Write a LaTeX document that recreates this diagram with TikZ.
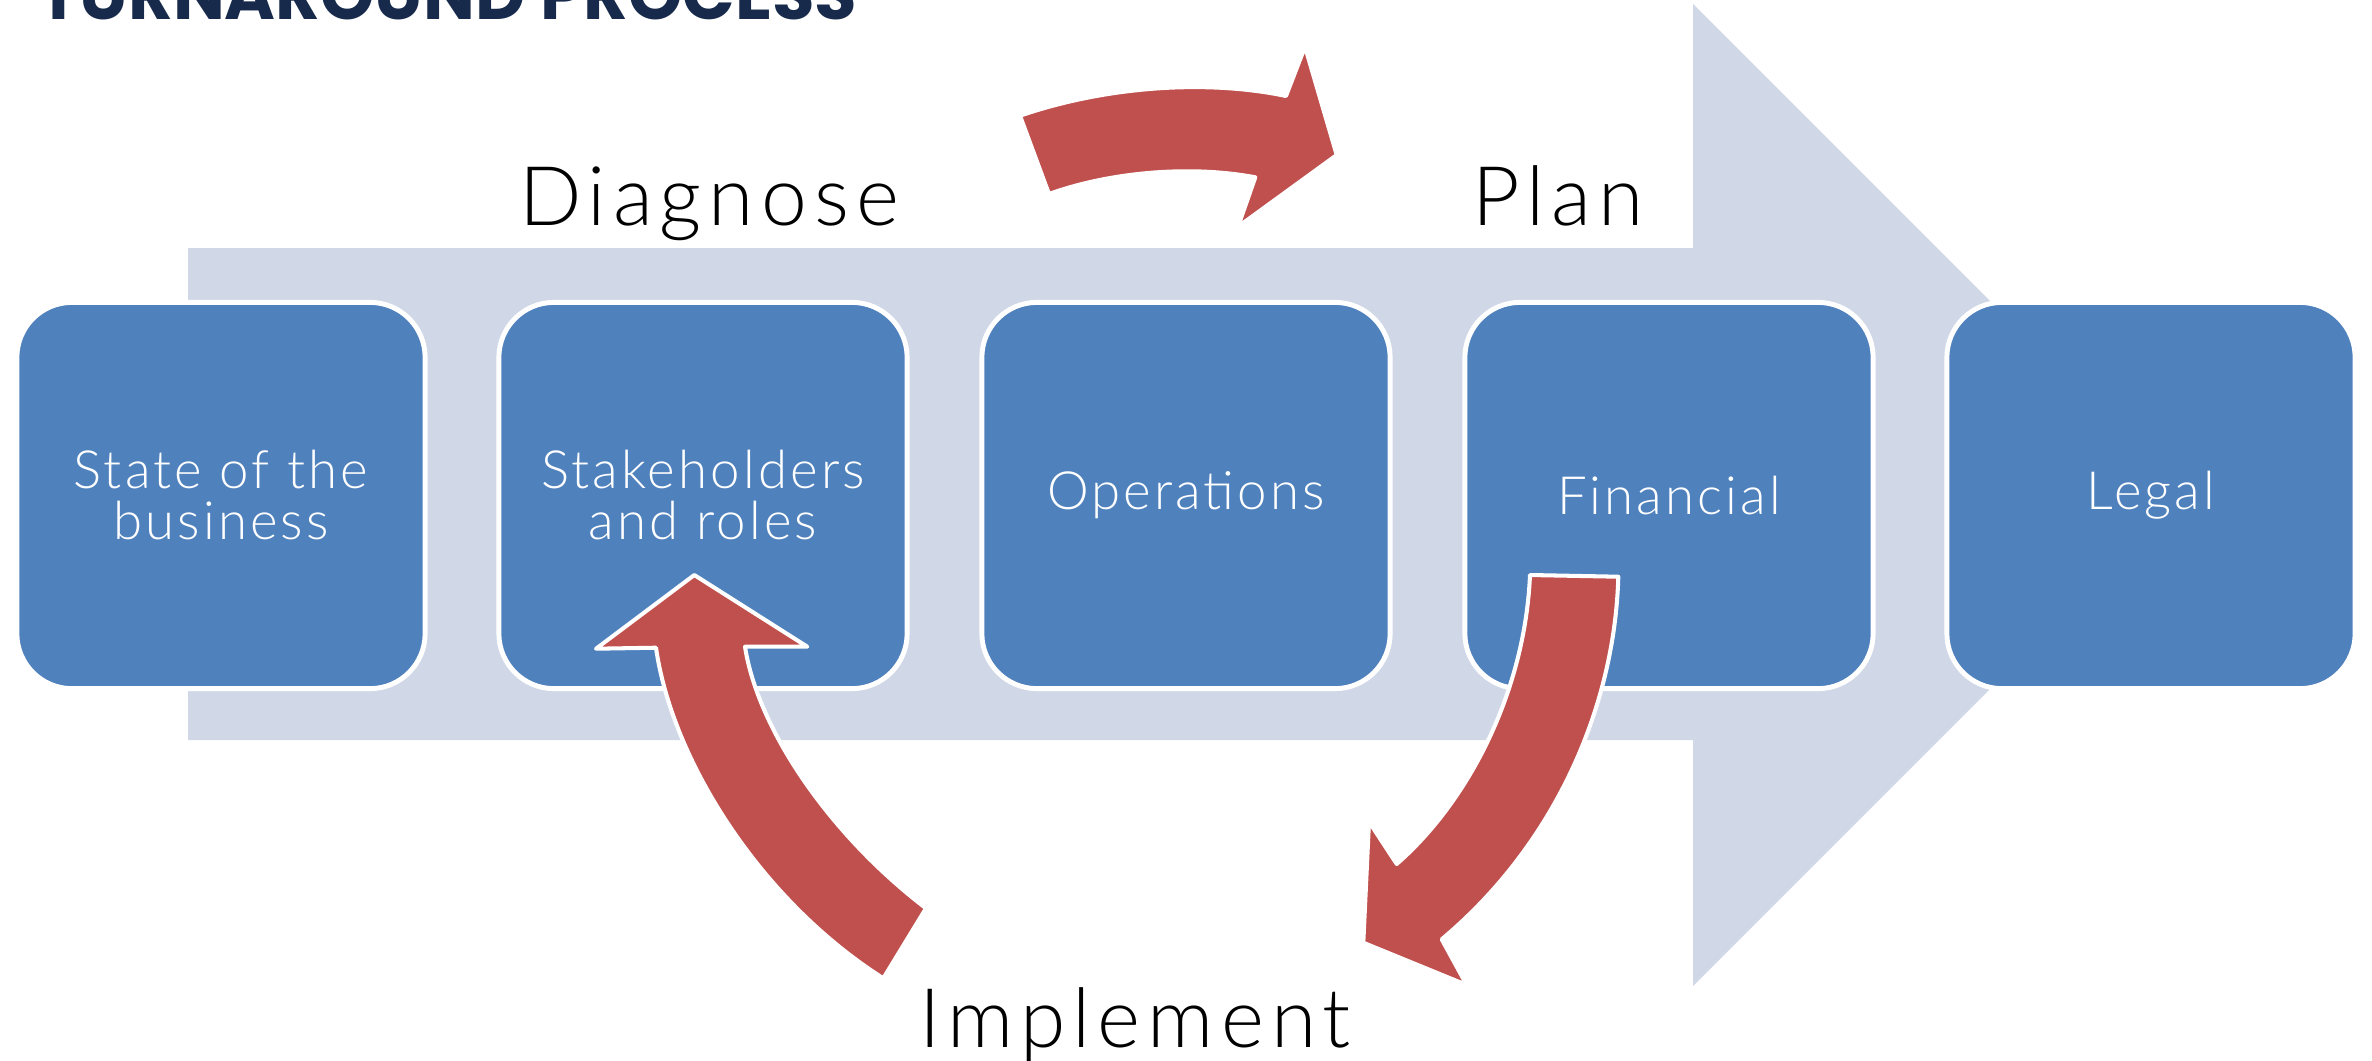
\documentclass[tikz,border=0pt]{standalone}
\usepackage{fontspec}
\setmainfont{Lato}
\newfontfamily\lightfont{Lato Light}[LetterSpace=6]
\newfontfamily\phasefont{Lato Light}[LetterSpace=8.5]
\newfontfamily\titlefont{Poppins}
\definecolor{shaftgray}{HTML}{D0D8E8}
\definecolor{boxblue}{HTML}{4F81BD}
\definecolor{loopred}{HTML}{C0504D}
\definecolor{navy}{HTML}{172A4B}
\begin{document}
\begin{tikzpicture}[x=0.01cm,y=-0.01cm,
  stepbox/.style={rectangle, rounded corners=0.55cm, minimum width=4.08cm,
    minimum height=3.86cm, fill=boxblue, draw=white, line width=1.4pt,
    text=white, align=center, inner sep=0pt,
    font=\lightfont\fontsize{15}{14.5}\selectfont},
  phase/.style={anchor=base, inner sep=0pt, text=black,
    font=\phasefont\fontsize{23.4}{28}\selectfont},
  loop/.style={fill=loopred, draw=white, line width=1.15pt, line join=round}]
\useasboundingbox (0,0) rectangle (2372,1060);

% heading, cut by the top edge
\node[anchor=base west, inner sep=0pt, text=navy] (title) at (38,19)
  {\resizebox{8.18cm}{!}{\titlefont\bfseries TURNAROUND PROCESS}};

% broad arrow behind the steps
\fill[shaftgray] (188,248) -- (1693,248) -- (1693,4) -- (2184,495)
  -- (1693,986) -- (1693,740) -- (188,740) -- cycle;

% the five steps
\node[stepbox] (b1) at (221,495.5)  {State of the\\business};
\node[stepbox] (b2) at (703,495.5)  {Stakeholders\\and roles};
\node[stepbox] (b3) at (1186,495.5) {Operations};
\node[stepbox] (b4) at (1669,495.5) {Financial};
\node[stepbox] (b5) at (2151,495.5) {Legal};

% phase labels
\node[phase] (diag) at (709,225)  {Diagnose};
\node[phase] (plan) at (1558,225) {Plan};
\node[phase] (impl) at (1135,1047) {Implement};

% curved block arrows of the cycle
\path[loop] (1020,115.7) .. controls (1110,85) and (1210,80) .. (1286,96)
  -- (1305,46.7) -- (1336.7,155) -- (1238,226.7) -- (1255.3,177.3)
  .. controls (1190,165) and (1110,172) .. (1049,194) -- cycle;

\path[loop] (1530,575) -- (1618.3,576.7)
  .. controls (1615,700) and (1560,840) .. (1441.7,939.3)
  -- (1466.7,985) -- (1363.3,942.7) -- (1369,821.7) -- (1396.7,864)
  .. controls (1470,800) and (1525,690) .. (1530,575) -- cycle;

\path[loop] (694.3,575) -- (807.3,646.7) -- (745,646.7)
  .. controls (758,730) and (830,835) .. (926,908.3)
  -- (883.3,978.3) .. controls (760,900) and (672,760) .. (656,647.7)
  -- (596,648.7) -- cycle;
\end{tikzpicture}
\end{document}
